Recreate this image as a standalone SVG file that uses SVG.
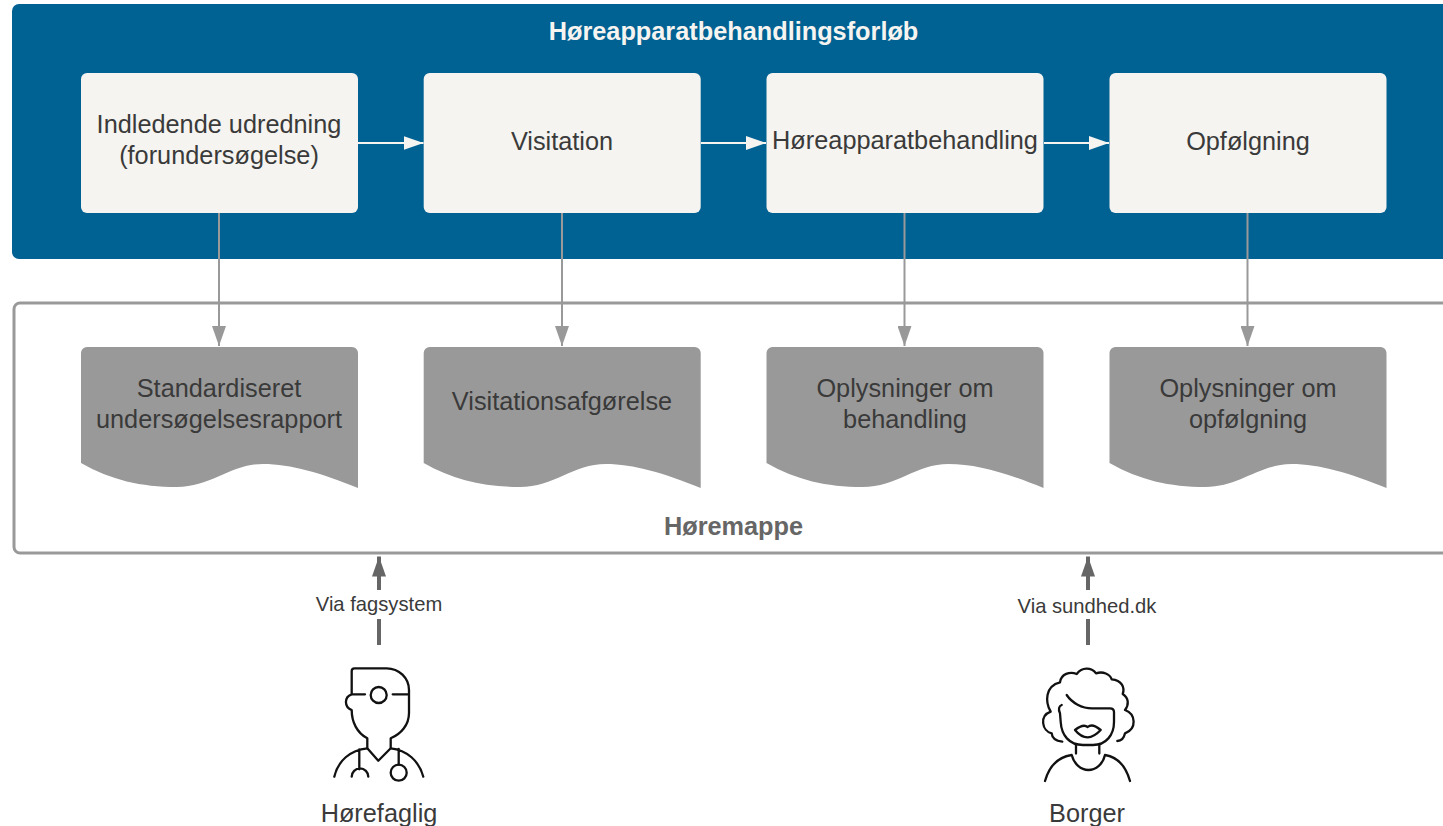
<svg xmlns="http://www.w3.org/2000/svg" width="1443" height="826" viewBox="0 0 1443 826">
<style>
text{font-family:"Liberation Sans",Arial,sans-serif;text-anchor:middle}
.t{font-size:25.3px;fill:#3a3a3a}
.l{font-size:20.2px;fill:#3a3a3a}
.step{fill:#f5f4f0}
.doc{fill:#999}
.ic{fill:none;stroke:#111;stroke-width:2.3;stroke-linecap:round;stroke-linejoin:round}
.w{stroke:#f5f4f0;stroke-width:2;fill:none}
.g{stroke:#999;stroke-width:2;fill:none}
.d{stroke:#666;stroke-width:4;fill:none}
</style>
<defs>
<marker id="mw" markerUnits="userSpaceOnUse" markerWidth="20" markerHeight="14" refX="20" refY="7" orient="auto"><path d="M0 0L20 7L0 14Z" fill="#f5f4f0"/></marker>
<marker id="mg" markerUnits="userSpaceOnUse" markerWidth="20" markerHeight="14" refX="20" refY="7" orient="auto"><path d="M0 0L20 7L0 14Z" fill="#999"/></marker>
<marker id="md" markerUnits="userSpaceOnUse" markerWidth="20" markerHeight="14" refX="20" refY="7" orient="auto"><path d="M0 0L20 7L0 14Z" fill="#666"/></marker>
<path id="wave" d="M0 6a6 6 0 0 1 6-6H271a6 6 0 0 1 6 6V141C240 126 210 117 182 117C150 117 130 140 96 140C60 140 30 133 0 116Z"/>
</defs>
<rect width="1443" height="826" fill="#fff"/>
<g id="group-forloeb"><rect x="12" y="4" width="1450" height="255" rx="7" fill="#006193"/><text x="733.5" y="40" font-size="25.3" font-weight="700" fill="#f5f4f0">Høreapparatbehandlingsforløb</text></g>
<g id="group-hoeremappe"><rect x="14" y="303" width="1450" height="250" rx="6" fill="#fff" stroke="#999" stroke-width="3"/><text x="733.5" y="535" font-size="25.3" font-weight="700" fill="#666">Høremappe</text></g>
<g id="step-1"><rect class="step" x="81" y="73" width="277" height="140" rx="6"/><text class="t" x="219" y="132.700">Indledende udredning</text><text class="t" x="219" y="163.700">(forundersøgelse)</text></g>
<g id="step-2"><rect class="step" x="423.700" y="73" width="277" height="140" rx="6"/><text class="t" x="562" y="149.700">Visitation</text></g>
<g id="step-3"><rect class="step" x="766.500" y="73" width="277" height="140" rx="6"/><text class="t" x="905" y="148.700">Høreapparatbehandling</text></g>
<g id="step-4"><rect class="step" x="1109.500" y="73" width="277" height="140" rx="6"/><text class="t" x="1248" y="149.700">Opfølgning</text></g>
<g id="doc-1"><use href="#wave" class="doc" x="81" y="347"/><text class="t" x="219" y="396.700">Standardiseret</text><text class="t" x="219" y="427.700">undersøgelsesrapport</text></g>
<g id="doc-2"><use href="#wave" class="doc" x="423.700" y="347"/><text class="t" x="562" y="409.700">Visitationsafgørelse</text></g>
<g id="doc-3"><use href="#wave" class="doc" x="766.500" y="347"/><text class="t" x="905" y="396.700">Oplysninger om</text><text class="t" x="905" y="427.700">behandling</text></g>
<g id="doc-4"><use href="#wave" class="doc" x="1109.500" y="347"/><text class="t" x="1248" y="396.700">Oplysninger om</text><text class="t" x="1248" y="427.700">opfølgning</text></g>
<g id="connectors">
<path class="w" d="M358 143H423.500" marker-end="url(#mw)"/>
<path class="w" d="M701 143H766" marker-end="url(#mw)"/>
<path class="w" d="M1044 143H1109" marker-end="url(#mw)"/>
<path class="g" d="M219 213V346" marker-end="url(#mg)"/>
<path class="g" d="M562 213V346" marker-end="url(#mg)"/>
<path class="g" d="M904.500 213V346" marker-end="url(#mg)"/>
<path class="g" d="M1247.500 213V346" marker-end="url(#mg)"/>
<path class="d" d="M379 645V556.500" marker-end="url(#md)"/>
<path class="d" d="M1088 645V556.500" marker-end="url(#md)"/>
<rect x="310" y="590" width="138" height="29" fill="#fff"/>
<rect x="1012" y="590" width="150" height="29" fill="#fff"/>
<text class="l" x="379" y="611">Via fagsystem</text>
<text class="l" x="1087" y="612.500">Via sundhed.dk</text>
</g>
<g id="actor-hoerefaglig">
<path class="ic" d="M351.700 694.300V671a2.700 2.700 0 0 1 2.700-2.700H386.700C399 668.300 409 678 409 690V713C409 725 401 734 390.700 738.300V748.300L378.300 760.700L367.300 748.300V738.300C357 733 351.700 722 351.700 710C344 707 344 697 351.700 694.300H365M392.700 694.300H409"/>
<circle class="ic" cx="378.700" cy="695" r="8"/>
<path class="ic" d="M334.300 776.700C338 761 350 750 367.300 748.300M423.300 776.700C419 761 407 750 390.700 748.300M359.300 749.300V769.300M351.700 776.700A8.300 8.300 0 0 1 368.300 776.700M398.700 749V764.700"/>
<circle class="ic" cx="398.700" cy="772.700" r="8"/>
<text x="379" y="822" font-size="25.3" fill="#3a3a3a">Hørefaglig</text>
</g>
<g id="actor-borger">
<path class="ic" d="M1062.300 741.700C1056 741 1052 738 1051.700 733.300C1042 731 1039 716 1050.700 711.700C1045 702 1045 686 1060 682.300C1061 674 1070 671 1076.700 674C1082 667 1091 667 1096 673.300C1103 671 1110 674 1111.700 679.300C1122 680 1125 688 1122.700 694C1129 698 1129 705 1125 710C1136 714 1137 729 1125 733.300C1124 738 1122 741 1117.300 741"/>
<path class="ic" d="M1066.700 695C1072 703 1082 708.300 1092 708.300H1110C1113 708.300 1114 710 1114 712V722C1114 735 1106 745 1093 745H1083C1069 745 1061.500 735 1060.700 722L1060 713.300C1058 709 1059 706 1061.700 705"/>
<path class="ic" d="M1076 745V753.500M1099.300 745V753.500M1045 781C1049 767 1058 757 1071.700 755C1074 764 1081 770 1088.300 770C1096 770 1103 764 1105 755C1118 757 1126 767 1130 781"/>
<path class="ic" d="M1075 730C1080 726 1084 724 1087.700 727C1091 724 1096 726 1100.700 730C1096 735 1092 737.300 1087.700 737.300C1083 737.300 1079 735 1075 730Z"/>
<text x="1087" y="822" font-size="25.3" fill="#3a3a3a">Borger</text>
</g>
</svg>
